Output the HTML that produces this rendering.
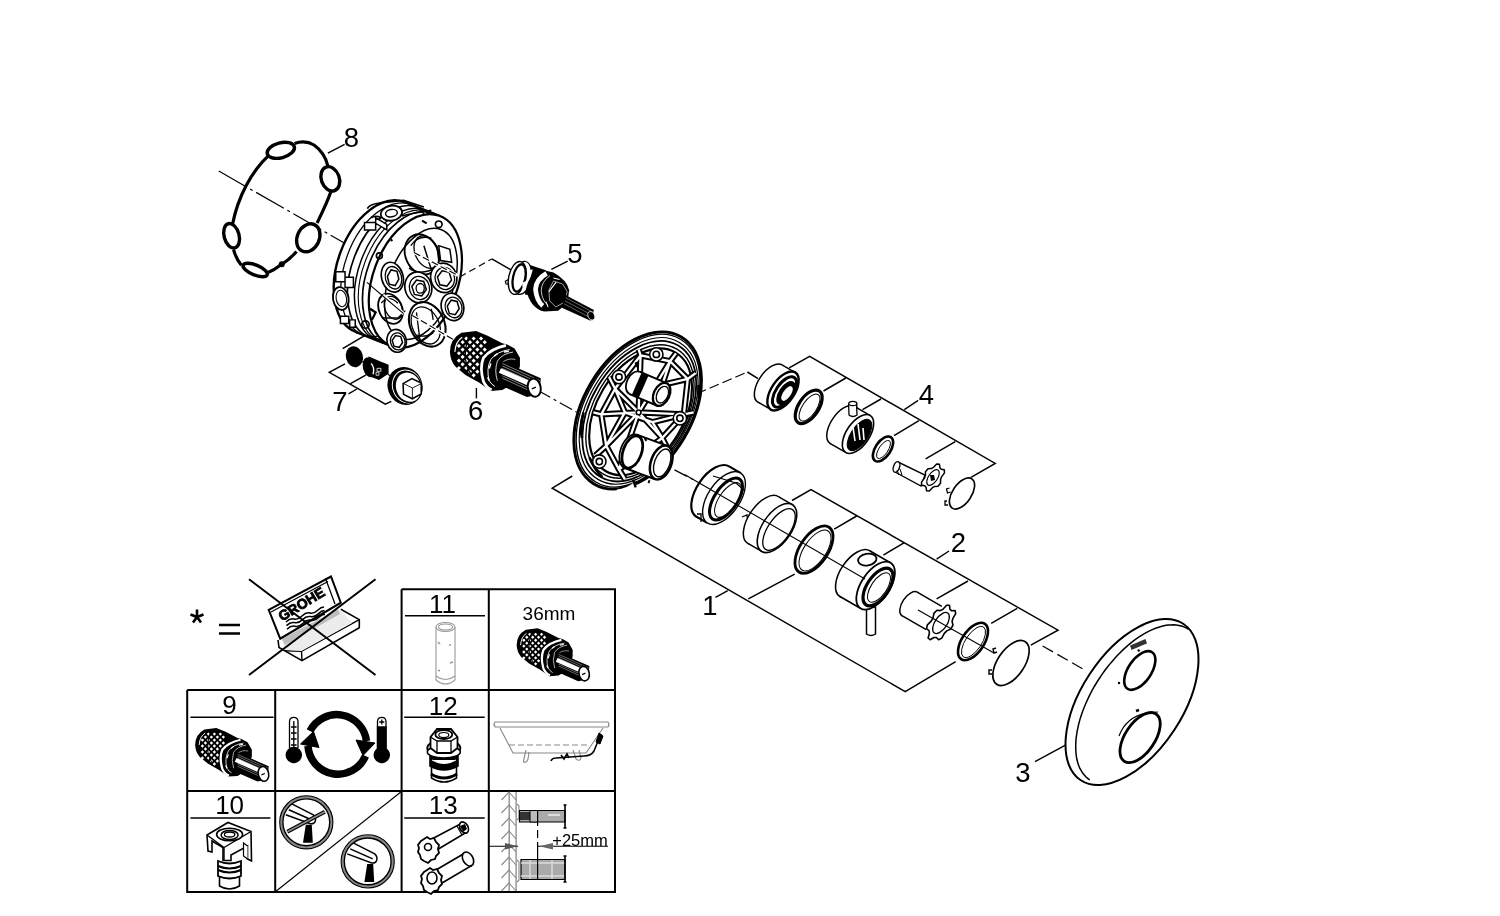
<!DOCTYPE html>
<html><head><meta charset="utf-8">
<style>
html,body{margin:0;padding:0;background:#fff;width:1500px;height:916px;overflow:hidden}
svg{position:absolute;left:0;top:0;display:block;will-change:transform}
text{font-family:"Liberation Sans",sans-serif;fill:#000}
</style></head><body>
<svg width="1500" height="916" viewBox="0 0 1500 916">
<g id="labels" font-size="27.5">
<text x="351.5" y="147.2" text-anchor="middle">8</text>
<text x="575" y="263.2" text-anchor="middle">5</text>
<text x="475.6" y="420.2" text-anchor="middle">6</text>
<text x="340" y="411.2" text-anchor="middle">7</text>
<text x="926.5" y="404.2" text-anchor="middle">4</text>
<text x="958.5" y="552.2" text-anchor="middle">2</text>
<text x="710" y="614.7" text-anchor="middle">1</text>
<text x="1023" y="781.7" text-anchor="middle">3</text>
</g>
<g id="leaders" stroke="#000" stroke-width="1.4" fill="none">
<path d="M327.9 153.2L344.6 144.4"/>
<path d="M551.4 269.3L567.7 261.1"/>
<path d="M476.4 388L476.4 398.4"/>
<path d="M348.5 393.9L356.9 389"/>
<path d="M904.3 409.6L918.2 400.3"/>
<path d="M936.6 559.2L949 551"/>
<path d="M715.5 597.4L727.8 590.6"/>
<path d="M1035 761.6L1065.5 745.2"/>
</g>

<g id="lines" stroke="#000" stroke-width="1.5" fill="none">
<!-- brackets -->
<path d="M342.6 348.7L375.7 329.1M345 363.9L329.3 372.3L385.4 404.2L391.3 401.3M350.5 383.6L365.7 375.2"/>
<path d="M789.2 367.8L809.6 356.3L995.2 463.4L971 477.3M845.8 378L823.5 391M881 399L862.5 409.6M919 420.7L894 435.6M955.3 441.7L925.6 458.8"/>
<path d="M792 500.5L811 489.6L1058 630.2L1030.8 645.2M857.5 515.5L834.2 529.2M903.9 542.8L883.4 555.1M968 581L936.6 598.8M1017.2 608.3L991.2 623.4"/>
<path d="M572.3 476L552.2 488.2L905.2 691.6L955.7 661.6M748.3 598.8L794.7 574.2"/>
<path d="M491.8 258.9L511 269.9M747.4 372L758 378.6"/>
</g>
<g id="axes" stroke="#000" stroke-width="1.2" fill="none" stroke-dasharray="14 4 3 4">
<path d="M218.8 171L345.6 243.7" stroke-dasharray="32 4 3 4"/>
<path d="M459.7 277L491.8 258.9" stroke-dasharray="7 4"/>
<path d="M538 390.4L576.7 412.2"/>
<path d="M674.5 469.9L696.3 481.2"/>
<path d="M671 404.8L747.4 372" stroke-dasharray="10 4"/>
<path d="M1042.6 645.9L1086.3 671" stroke-dasharray="12 5"/>
</g>
<g id="gasket" stroke="#000" fill="none">
<path stroke-width="3.2" d="M294.5 143.4C302 141 309 142 314 145C321 150 326 158 327.9 166M330.9 191.6C327 203 322 213 317.1 223M296.5 251.5C292 257 287 261 281.7 264.3C277 268 272 271 267 273.1M241.4 265.3C237 260 235 255 233.6 249.6M232.6 224C238 197 251 172 269 155.2"/>
<ellipse stroke-width="3.4" cx="280.8" cy="150.3" rx="14" ry="7.5" transform="rotate(-15 280.8 150.3)"/>
<ellipse stroke-width="3.4" cx="330.3" cy="178.8" rx="9" ry="12.5" transform="rotate(-20 330.3 178.8)"/>
<ellipse stroke-width="3.4" cx="308.3" cy="237.8" rx="11" ry="14.5" transform="rotate(25 308.3 237.8)"/>
<ellipse stroke-width="3.4" cx="231.6" cy="235.8" rx="7.5" ry="12.5" transform="rotate(-15 231.6 235.8)"/>
<ellipse stroke-width="3.4" cx="255.2" cy="270" rx="13" ry="5" transform="rotate(22 255.2 270)"/>
<circle cx="281.7" cy="264.3" r="3" fill="#000" stroke="none"/>
</g>

<g id="housing" transform="translate(320 190) scale(0.18553)" stroke="#000" fill="none" stroke-width="9"><ellipse cx="325.0" cy="415.0" rx="374.0" ry="229.0" transform="rotate(-69.8 325.0 415.0)" fill="#fff" stroke-width="13"/><path d="M458 65L647 140L381 840L192 765Z" fill="#fff" stroke="none"/><path d="M458 65L647 140M192 765L381 840" stroke-width="12"/><ellipse cx="362.8" cy="430.0" rx="374.0" ry="229.0" transform="rotate(-69.8 362.8 430.0)" stroke-width="7"/><ellipse cx="398.7" cy="444.2" rx="374.0" ry="229.0" transform="rotate(-69.8 398.7 444.2)" stroke-width="9"/><ellipse cx="436.5" cy="459.2" rx="374.0" ry="229.0" transform="rotate(-69.8 436.5 459.2)" stroke-width="8"/><ellipse cx="457.3" cy="467.5" rx="374.0" ry="229.0" transform="rotate(-69.8 457.3 467.5)" stroke-width="6"/><ellipse cx="480.0" cy="476.5" rx="374.0" ry="229.0" transform="rotate(-69.8 480.0 476.5)" stroke-width="9"/><ellipse cx="514.0" cy="490.0" rx="374.0" ry="229.0" transform="rotate(-69.8 514.0 490.0)" fill="#fff" stroke-width="12"/><ellipse cx="544.0" cy="506.0" rx="312.0" ry="174.0" transform="rotate(-69.8 544.0 506.0)" stroke-width="8"/><path d="M240 175H300V215H240ZM300 150L360 185V215L300 180ZM85 440h50v55h-50ZM135 470h45v55h-45ZM110 680h45v40h-45ZM160 700h30v40h-30Z" fill="#fff" stroke-width="8"/><ellipse cx="112.0" cy="585.0" rx="42.0" ry="62.0" transform="rotate(-10 112.0 585.0)" fill="#fff" stroke-width="10"/><ellipse cx="115.0" cy="585.0" rx="28.0" ry="45.0" transform="rotate(-10 115.0 585.0)" stroke-width="6"/><path d="M255 100 Q265 78 320 70 L450 56 L560 92 M275 150 Q300 135 330 150 M440 140 Q520 120 600 110" stroke-width="9"/><ellipse cx="385.0" cy="125.0" rx="58.0" ry="40.0" transform="rotate(-10 385.0 125.0)" fill="#fff" stroke-width="10"/><ellipse cx="385.0" cy="125.0" rx="32.0" ry="20.0" transform="rotate(-10 385.0 125.0)" stroke-width="8"/><ellipse cx="549.0" cy="347.0" rx="88.0" ry="112.0" transform="rotate(-25 549.0 347.0)" stroke-width="10"/><ellipse cx="575.0" cy="335.0" rx="62.0" ry="92.0" transform="rotate(-25 575.0 335.0)" stroke-width="7"/><path d="M490 300 Q530 240 600 260 M480 420 Q540 470 640 410 M560 300 L600 430 M630 300 L640 380" stroke-width="8"/><path d="M640 300 L700 320 L710 390 L650 380 Z" fill="#fff" stroke-width="8"/><ellipse cx="380.0" cy="640.0" rx="62.0" ry="85.0" transform="rotate(-25 380.0 640.0)" stroke-width="10"/><ellipse cx="395.0" cy="635.0" rx="45.0" ry="65.0" transform="rotate(-25 395.0 635.0)" stroke-width="7"/><path d="M330 610 Q370 560 420 610 M340 690 L420 690 L460 650" stroke-width="7"/><ellipse cx="390.0" cy="470.0" rx="58.0" ry="82.0" transform="rotate(-15 390.0 470.0)" fill="#fff" stroke-width="9"/><ellipse cx="396.0" cy="473.0" rx="43.5" ry="61.5" transform="rotate(-15 396.0 473.0)" stroke-width="7"/><path d="M425 481 L405 515 L373 508 L363 465 L383 431 L415 438 Z" stroke-width="8"/><ellipse cx="530.0" cy="525.0" rx="72.0" ry="84.0" transform="rotate(-15 530.0 525.0)" fill="#fff" stroke-width="9"/><ellipse cx="536.0" cy="528.0" rx="54.0" ry="63.0" transform="rotate(-15 536.0 528.0)" stroke-width="7"/><path d="M573 536 L548 571 L509 563 L495 520 L520 485 L559 493 Z" stroke-width="8"/><ellipse cx="540.0" cy="530.0" rx="22.0" ry="26.0" transform="rotate(0 540.0 530.0)" stroke-width="7"/><ellipse cx="667.0" cy="474.0" rx="70.0" ry="80.0" transform="rotate(-15 667.0 474.0)" fill="#fff" stroke-width="9"/><ellipse cx="673.0" cy="477.0" rx="52.5" ry="60.0" transform="rotate(-15 673.0 477.0)" stroke-width="7"/><path d="M709 485 L684 518 L646 511 L633 469 L658 436 L696 443 Z" stroke-width="8"/><ellipse cx="714.0" cy="630.0" rx="60.0" ry="75.0" transform="rotate(-15 714.0 630.0)" fill="#fff" stroke-width="9"/><ellipse cx="720.0" cy="633.0" rx="45.0" ry="56.2" transform="rotate(-15 720.0 633.0)" stroke-width="7"/><path d="M750 640 L729 672 L697 665 L686 626 L707 594 L739 601 Z" stroke-width="8"/><ellipse cx="413.0" cy="813.0" rx="52.0" ry="62.0" transform="rotate(-15 413.0 813.0)" fill="#fff" stroke-width="9"/><ellipse cx="419.0" cy="816.0" rx="39.0" ry="46.5" transform="rotate(-15 419.0 816.0)" stroke-width="7"/><path d="M445 822 L427 848 L399 842 L389 810 L407 784 L435 790 Z" stroke-width="8"/><ellipse cx="578.0" cy="724.0" rx="92.0" ry="125.0" transform="rotate(-25 578.0 724.0)" stroke-width="11"/><ellipse cx="570.0" cy="730.0" rx="72.0" ry="105.0" transform="rotate(-25 570.0 730.0)" stroke-width="7"/><path d="M520 660 L540 820 M600 640 L610 700 M520 780 Q560 800 610 770" stroke-width="7"/><circle cx="640" cy="185" r="18"/><circle cx="245" cy="725" r="20"/><circle cx="320" cy="355" r="16"/><path d="M550 165 l25 15 M380 265 l10 10 M270 640 l30 20 L280 700" stroke-width="12"/></g>
<g id="hgaps" fill="none">
<path d="M414 252.6L457.7 275.3M383 295L403.6 313.7M412.3 315.5L454.2 340" stroke="#fff" stroke-width="3.2"/>
<path d="M414 252.6L457.7 275.3M412.3 315.5L454.2 340" stroke="#000" stroke-width="1.1" stroke-dasharray="7 3"/>
<path d="M366.9 282.3L403.6 313.7" stroke="#000" stroke-width="1.1"/>
</g>
<g id="cart5" transform="translate(500 255) scale(0.076394)" stroke="#000" fill="none">
<path d="M70 345 L110 320 L125 385 L80 380 Z" fill="#fff" stroke-width="16"/>
<path d="M300 100 L600 200 L640 520 L330 520 Z" fill="#000" stroke="none"/>
<ellipse cx="290" cy="300" rx="115" ry="220" transform="rotate(12 290 300)" fill="#fff" stroke-width="16"/>
<ellipse cx="225" cy="300" rx="112" ry="218" transform="rotate(12 225 300)" fill="#fff" stroke-width="18"/>
<ellipse cx="250" cy="300" rx="80" ry="182" transform="rotate(12 250 300)" stroke-width="30"/>
<path d="M260 290 Q300 330 300 420 Q290 480 270 490" stroke="#fff" stroke-width="10"/>
<path d="M350 200 L430 190 L400 290 Z" fill="#fff" stroke="none"/>
<path d="M300 360 L360 330 L360 420 L300 430 Z M450 300 l40 -30 l20 60 z" fill="#fff" stroke="none"/>
<path d="M340 450 Q380 230 560 195 L700 230 Q880 330 905 460 Q900 640 760 730 L580 740 Q400 700 340 450 Z" fill="#000" stroke="none"/>
<path d="M610 240 Q470 320 465 450 Q480 600 560 665" stroke="#fff" stroke-width="62"/>
<path d="M655 270 Q540 350 540 470 Q550 590 620 650" stroke="#fff" stroke-width="10"/>
<path d="M640 480 L735 355 M600 610 l30 70 M700 300 l80 20" stroke="#fff" stroke-width="14"/>
<path d="M700 340 L820 380 L880 480 L840 620 L730 680 L650 600 L640 460 Z" stroke="#fff" stroke-width="8"/>
<path d="M850 520 L1230 720 L1185 860 L810 690 Z" fill="#000" stroke="none"/>
<path d="M860 560 L1210 745 M850 600 L1200 785 M840 640 L1190 825" stroke="#fff" stroke-width="5"/>
<ellipse cx="1195" cy="795" rx="42" ry="58" transform="rotate(-20 1195 795)" fill="#000" stroke="#fff" stroke-width="9"/>
</g>
<g id="cart6" transform="translate(445 325) scale(0.0819)" stroke="#000" fill="none">
<path d="M60 330 Q60 170 200 95 L380 72 L520 130 L700 222 L760 238 L850 288 L915 400 L915 500 L860 700 L700 795 L560 805 L420 705 L250 610 L130 510 Q65 440 60 330 Z" fill="#000" stroke="none"/>
<g fill="#fff" stroke="none"><rect x="152" y="507" width="36" height="36" transform="rotate(45 170 525)"/><rect x="152" y="417" width="36" height="36" transform="rotate(45 170 435)"/><rect x="197" y="462" width="36" height="36" transform="rotate(45 215 480)"/><rect x="242" y="507" width="36" height="36" transform="rotate(45 260 525)"/><rect x="287" y="552" width="36" height="36" transform="rotate(45 305 570)"/><rect x="332" y="597" width="36" height="36" transform="rotate(45 350 615)"/><rect x="152" y="327" width="36" height="36" transform="rotate(45 170 345)"/><rect x="197" y="372" width="36" height="36" transform="rotate(45 215 390)"/><rect x="242" y="417" width="36" height="36" transform="rotate(45 260 435)"/><rect x="287" y="462" width="36" height="36" transform="rotate(45 305 480)"/><rect x="332" y="507" width="36" height="36" transform="rotate(45 350 525)"/><rect x="377" y="552" width="36" height="36" transform="rotate(45 395 570)"/><rect x="152" y="237" width="36" height="36" transform="rotate(45 170 255)"/><rect x="197" y="282" width="36" height="36" transform="rotate(45 215 300)"/><rect x="242" y="327" width="36" height="36" transform="rotate(45 260 345)"/><rect x="287" y="372" width="36" height="36" transform="rotate(45 305 390)"/><rect x="332" y="417" width="36" height="36" transform="rotate(45 350 435)"/><rect x="377" y="462" width="36" height="36" transform="rotate(45 395 480)"/><rect x="197" y="192" width="36" height="36" transform="rotate(45 215 210)"/><rect x="242" y="237" width="36" height="36" transform="rotate(45 260 255)"/><rect x="287" y="282" width="36" height="36" transform="rotate(45 305 300)"/><rect x="332" y="327" width="36" height="36" transform="rotate(45 350 345)"/><rect x="377" y="372" width="36" height="36" transform="rotate(45 395 390)"/><rect x="242" y="147" width="36" height="36" transform="rotate(45 260 165)"/><rect x="287" y="192" width="36" height="36" transform="rotate(45 305 210)"/><rect x="332" y="237" width="36" height="36" transform="rotate(45 350 255)"/><rect x="377" y="282" width="36" height="36" transform="rotate(45 395 300)"/><rect x="422" y="327" width="36" height="36" transform="rotate(45 440 345)"/><rect x="332" y="147" width="36" height="36" transform="rotate(45 350 165)"/><rect x="377" y="192" width="36" height="36" transform="rotate(45 395 210)"/><rect x="422" y="237" width="36" height="36" transform="rotate(45 440 255)"/><rect x="467" y="282" width="36" height="36" transform="rotate(45 485 300)"/><rect x="422" y="147" width="36" height="36" transform="rotate(45 440 165)"/><rect x="467" y="192" width="36" height="36" transform="rotate(45 485 210)"/></g>
<path d="M120 330 Q130 200 210 150" stroke="#fff" stroke-width="14"/>
<path d="M300 120 Q240 250 250 420 Q270 540 320 600" stroke="#000" stroke-width="16"/>
<path d="M745 250 Q560 290 470 400 Q420 520 470 690 Q510 770 570 790" stroke="#fff" stroke-width="34"/>
<path d="M790 300 Q640 320 560 420 Q500 540 540 680 Q570 730 610 750" stroke="#fff" stroke-width="12"/>
<path d="M600 380 l40 -30 M560 470 l-20 60 M520 640 l20 40 M720 330 l60 -10" stroke="#fff" stroke-width="18"/><path d="M830 330 Q700 350 640 440 Q600 560 640 680" stroke="#fff" stroke-width="10"/><path d="M860 420 Q760 400 700 460" stroke="#fff" stroke-width="8"/>
<path d="M690 440 L1170 650 L1150 850 L1000 880 L640 720 Z" fill="#000" stroke="none"/>
<g stroke="#fff" stroke-width="6"><path d="M700 470 L1160 680"/><path d="M700 500 L1160 710"/><path d="M700 530 L1160 740"/><path d="M700 560 L1160 770"/><path d="M700 590 L1160 800"/><path d="M700 620 L1160 830"/><path d="M700 650 L1160 860"/></g>
<path d="M670 555 L1010 705" stroke="#fff" stroke-width="62"/>
<ellipse cx="1090" cy="765" rx="78" ry="112" transform="rotate(-12 1090 765)" fill="#fff" stroke-width="24"/>
<path d="M1060 780 L1110 758" stroke-width="18"/>
</g>
<g id="part7" transform="translate(320 330) scale(0.09828)" stroke="#000" fill="none" stroke-width="16">
<ellipse cx="350" cy="272" rx="78" ry="100" transform="rotate(-15 350 272)" fill="#000"/>
<path d="M430 320 L470 345" stroke-width="12"/>
<path d="M500 280 L690 360 L690 440 L600 500 L470 450 Z" fill="#000"/>
<ellipse cx="500" cy="380" rx="55" ry="95" transform="rotate(-15 500 380)" fill="#000"/>
<path d="M520 340 Q560 380 540 450" stroke="#fff" stroke-width="14"/>
<path d="M580 390h40v30h-40zM570 430h30v30h-30z" stroke="#fff" stroke-width="8"/>
<path d="M690 450 L740 480" stroke-width="12"/>
<ellipse cx="865" cy="570" rx="168" ry="188" transform="rotate(-20 865 570)" fill="#000"/>
<ellipse cx="885" cy="575" rx="146" ry="170" transform="rotate(-20 885 575)" stroke="#fff" stroke-width="10"/>
<ellipse cx="900" cy="582" rx="132" ry="158" transform="rotate(-20 900 582)" fill="#fff" stroke-width="14"/>
<path d="M845 545 L935 495 L1030 540 L1030 650 L940 700 L850 655 Z" fill="#fff" stroke-width="16"/>
<path d="M850 545 L940 590 L1030 545 M940 590 L940 700" stroke-width="9"/>
</g>

<g id="plate" transform="translate(560 320) scale(0.19656)" stroke="#000" fill="none" stroke-width="9"><ellipse cx="395.0" cy="460.0" rx="435.0" ry="275.0" transform="rotate(-59.3 395.0 460.0)" fill="#fff" stroke-width="15"/><ellipse cx="397.2" cy="461.1" rx="422.2" ry="267.1" transform="rotate(-59.3 397.2 461.1)" stroke-width="7"/><ellipse cx="400.2" cy="462.4" rx="405.2" ry="256.4" transform="rotate(-59.3 400.2 462.4)" stroke-width="6"/><ellipse cx="403.2" cy="463.9" rx="388.2" ry="245.8" transform="rotate(-59.3 403.2 463.9)" stroke-width="9"/><ellipse cx="406.7" cy="465.5" rx="368.7" ry="233.7" transform="rotate(-59.3 406.7 465.5)" stroke-width="7"/><ellipse cx="410.0" cy="467.0" rx="350.0" ry="222.0" transform="rotate(-59.3 410.0 467.0)" stroke-width="11" fill="#fff"/><path d="M120 470 Q100 540 112 600 M150 700 Q175 760 215 800 M705 330 Q708 370 705 400" stroke-width="14"/><path d="M385 835 Q340 872 290 874" stroke="#fff" stroke-width="24"/><path d="M372 812 L385 852" stroke-width="12"/><path d="M400 470 L280 350 L210 480 L235 640 L300 760 L400 470 L520 600 L630 480 L650 300 L560 210 L400 470 L410 180 M280 350 L410 180 L560 210 M210 480 L400 470 L630 480 M235 640 L400 470 M300 760 L520 600 M280 350 L250 290 M210 480 L170 470 M235 640 L180 690 M300 760 L330 810 M520 600 L550 660 M630 480 L680 470 M650 300 L690 270 M560 210 L590 170 M410 180 L400 150 M280 350 L330 470 L235 640 M560 210 L520 330 L650 300 M520 600 L470 520 L630 480 M330 470 L470 520" stroke-width="32" stroke-linejoin="round"/><path d="M400 470 L280 350 L210 480 L235 640 L300 760 L400 470 L520 600 L630 480 L650 300 L560 210 L400 470 L410 180 M280 350 L410 180 L560 210 M210 480 L400 470 L630 480 M235 640 L400 470 M300 760 L520 600 M280 350 L250 290 M210 480 L170 470 M235 640 L180 690 M300 760 L330 810 M520 600 L550 660 M630 480 L680 470 M650 300 L690 270 M560 210 L590 170 M410 180 L400 150 M280 350 L330 470 L235 640 M560 210 L520 330 L650 300 M520 600 L470 520 L630 480 M330 470 L470 520" stroke-width="12" stroke="#fff" stroke-linejoin="round"/><g stroke-width="8" fill="#fff"><circle cx="490" cy="175" r="34"/><circle cx="490" cy="175" r="16"/><circle cx="300" cy="290" r="34"/><circle cx="300" cy="290" r="16"/><circle cx="610" cy="500" r="34"/><circle cx="610" cy="500" r="16"/><circle cx="200" cy="720" r="34"/><circle cx="200" cy="720" r="16"/><circle cx="400" cy="470" r="12"/></g><ellipse cx="380.0" cy="320.0" rx="62.0" ry="40.0" transform="rotate(-65 380.0 320.0)" fill="#fff" stroke-width="9"/><path d="M355 377L492 435L542 321L405 263Z" fill="#fff" stroke="none"/><path d="M355 377L492 435M405 263L542 321" stroke-width="10"/><path d="M365 382 L400 397 L450 283 L415 268 Z" fill="#000" stroke="none"/><ellipse cx="517.0" cy="378.0" rx="62.0" ry="40.0" transform="rotate(-65 517.0 378.0)" fill="#fff" stroke-width="12"/><ellipse cx="521.0" cy="380.0" rx="44.6" ry="28.0" transform="rotate(-65 521.0 380.0)" stroke-width="7"/><path d="M385 215 l10 25" stroke-width="12"/><ellipse cx="360.0" cy="668.0" rx="90.0" ry="52.0" transform="rotate(-70 360.0 668.0)" fill="#fff" stroke-width="9"/><path d="M391 583L546 640L484 810L329 753Z" fill="#fff" stroke="none"/><path d="M391 583L546 640M329 753L484 810" stroke-width="10"/><ellipse cx="368.0" cy="671.0" rx="85.5" ry="46.8" transform="rotate(-70 368.0 671.0)" stroke-width="14"/><ellipse cx="515.0" cy="725.0" rx="90.0" ry="52.0" transform="rotate(-70 515.0 725.0)" fill="#fff" stroke-width="13"/><ellipse cx="520.0" cy="727.0" rx="73.8" ry="39.0" transform="rotate(-70 520.0 727.0)" stroke-width="7"/><path d="M430 600 l10 15 M455 815 l-5 15" stroke-width="10"/></g>
<g id="group4" stroke="#000" fill="none"><ellipse cx="770.0" cy="383.5" rx="22.2" ry="11.5" transform="rotate(-56 770.0 383.5)" fill="#fff" stroke-width="1.5"/><path d="M782.4 365.1L795.4 372.6L770.6 409.4L757.6 401.9Z" fill="#fff" stroke="none"/><path d="M782.4 365.1L795.4 372.6M757.6 401.9L770.6 409.4" stroke-width="1.5"/><ellipse cx="783.0" cy="391.0" rx="22.2" ry="11.5" transform="rotate(-56 783.0 391.0)" fill="#fff" stroke-width="2.4"/><ellipse cx="784.5" cy="392.0" rx="17.5" ry="8.5" transform="rotate(-56 784.5 392.0)" stroke-width="3"/><ellipse cx="786.0" cy="393.0" rx="13.0" ry="6.5" transform="rotate(-56 786.0 393.0)" fill="#000" stroke-width="1.3"/><ellipse cx="787.0" cy="393.5" rx="8.0" ry="3.5" transform="rotate(-56 787.0 393.5)" fill="#fff" stroke="#fff" stroke-width="0.8"/><path d="M780 394 l8 -9" stroke-width="1.2"/><ellipse cx="808.7" cy="406.8" rx="19.0" ry="10.0" transform="rotate(-56 808.7 406.8)" stroke-width="3.2"/><ellipse cx="809.5" cy="407.5" rx="15.5" ry="7.0" transform="rotate(-56 809.5 407.5)" stroke-width="1"/><path d="M848.6 404 L849 415 Q853 418 857 415 L856.5 403 Q852 400 848.6 404Z" fill="#fff" stroke-width="1.3"/><ellipse cx="842.4" cy="425.0" rx="22.2" ry="11.5" transform="rotate(-56 842.4 425.0)" fill="#fff" stroke-width="1.5"/><path d="M854.8 406.6L870.4 415.6L845.6 452.4L830.0 443.4Z" fill="#fff" stroke="none"/><path d="M854.8 406.6L870.4 415.6M830.0 443.4L845.6 452.4" stroke-width="1.5"/><ellipse cx="858.0" cy="434.0" rx="22.2" ry="11.5" transform="rotate(-56 858.0 434.0)" fill="#fff" stroke-width="1.6"/><ellipse cx="859.5" cy="435.0" rx="18.0" ry="8.5" transform="rotate(-56 859.5 435.0)" fill="#000" stroke-width="1"/><path d="M853 427l2 14M858 424l2 16M863 428l1 12" stroke="#fff" stroke-width="1.6"/><path d="M848.6 404 L849 415 Q853 418 857 415 L856.5 403" fill="#fff" stroke-width="1.3"/><ellipse cx="852.8" cy="403.5" rx="4.0" ry="2.2" transform="rotate(0 852.8 403.5)" fill="#fff" stroke-width="1.2"/><ellipse cx="883.0" cy="449.0" rx="14.2" ry="7.6" transform="rotate(-56 883.0 449.0)" stroke-width="2.6"/><ellipse cx="883.5" cy="449.5" rx="10.5" ry="4.5" transform="rotate(-56 883.5 449.5)" stroke-width="0.9"/><path d="M898 462 L925 475 L921 486 L895 472 Z" fill="#fff" stroke-width="1.4"/><ellipse cx="896.5" cy="467.0" rx="5.5" ry="3.0" transform="rotate(-70 896.5 467.0)" fill="#fff" stroke-width="1.4"/><path d="M897 470 l2 5 M900 469 l2 6" stroke-width="1"/><path d="M941.3 469.3 L944.3 469.8 L944.5 472.9 L941.7 476.6 L940.6 479.4 L940.5 483.3 L938.0 486.3 L934.8 486.4 L932.4 487.7 L929.3 491.0 L926.6 490.8 L926.1 487.3 L924.7 485.7 L921.7 485.2 L921.5 482.1 L924.3 478.4 L925.4 475.6 L925.5 471.7 L928.0 468.7 L931.2 468.6 L933.6 467.3 L936.7 464.0 L939.4 464.2 L939.9 467.7 Z" fill="#fff" stroke-width="1.5" stroke-linejoin="round"/><ellipse cx="933.0" cy="477.5" rx="9.0" ry="4.5" transform="rotate(-56 933.0 477.5)" stroke-width="1.2"/><path d="M930 475 l4 0 l1 5 l-4 1z" fill="#000" stroke="none"/><ellipse cx="962.0" cy="493.5" rx="17.6" ry="9.5" transform="rotate(-56 962.0 493.5)" fill="#fff" stroke-width="1.6"/><path d="M949.5 488 l-3 1 l1 4 l3 -1 M947 501 l-2 0 l0 4 l3 0" stroke-width="1.3"/></g><g id="group12" stroke="#000" fill="none"><ellipse cx="712.7" cy="491.5" rx="30.0" ry="16.0" transform="rotate(-56 712.7 491.5)" fill="#fff" stroke-width="2.2"/><path d="M729.5 466.6L740.8 473.1L707.2 522.9L696.0 516.4Z" fill="#fff" stroke="none"/><path d="M729.5 466.6L740.8 473.1M696.0 516.4L707.2 522.9" stroke-width="2.2"/><ellipse cx="724.0" cy="498.0" rx="30.0" ry="16.0" transform="rotate(-56 724.0 498.0)" fill="#fff" stroke-width="1.4"/><ellipse cx="726.0" cy="499.0" rx="24.0" ry="11.5" transform="rotate(-56 726.0 499.0)" stroke-width="3"/><ellipse cx="728.0" cy="500.0" rx="20.0" ry="9.0" transform="rotate(-56 728.0 500.0)" stroke-width="1"/><path d="M713 476 L736 483 L745 491 M742 517 l5 -2 l1 8 M697 514 l4 0 l0 8" stroke-width="1.3"/><ellipse cx="763.1" cy="520.0" rx="28.0" ry="14.5" transform="rotate(-56 763.1 520.0)" fill="#fff" stroke-width="1.5"/><path d="M778.8 496.8L792.7 504.8L761.3 551.2L747.5 543.2Z" fill="#fff" stroke="none"/><path d="M778.8 496.8L792.7 504.8M747.5 543.2L761.3 551.2" stroke-width="1.5"/><ellipse cx="777.0" cy="528.0" rx="28.0" ry="14.5" transform="rotate(-56 777.0 528.0)" fill="#fff" stroke-width="1.6"/><ellipse cx="779.0" cy="529.5" rx="24.0" ry="11.0" transform="rotate(-56 779.0 529.5)" stroke-width="1.3"/><ellipse cx="814.0" cy="549.6" rx="27.0" ry="14.0" transform="rotate(-56 814.0 549.6)" stroke-width="2.8"/><ellipse cx="815.0" cy="550.5" rx="23.5" ry="11.0" transform="rotate(-56 815.0 550.5)" stroke-width="1"/><path d="M866.5 607 L866.5 634 Q871 637 875.5 634 L875.5 607Z" fill="#fff" stroke-width="1.5"/><ellipse cx="854.8" cy="573.6" rx="27.3" ry="14.2" transform="rotate(-56 854.8 573.6)" fill="#fff" stroke-width="1.6"/><path d="M870.1 551.0L890.9 563.0L860.3 608.2L839.6 596.2Z" fill="#fff" stroke="none"/><path d="M870.1 551.0L890.9 563.0M839.6 596.2L860.3 608.2" stroke-width="1.6"/><ellipse cx="875.6" cy="585.6" rx="27.3" ry="14.2" transform="rotate(-56 875.6 585.6)" fill="#fff" stroke-width="1.8"/><ellipse cx="878.0" cy="587.0" rx="21.5" ry="10.8" transform="rotate(-56 878.0 587.0)" stroke-width="3.2"/><ellipse cx="879.0" cy="587.5" rx="17.0" ry="7.8" transform="rotate(-56 879.0 587.5)" stroke-width="1"/><ellipse cx="867.3" cy="559.6" rx="9.3" ry="5.8" transform="rotate(-10 867.3 559.6)" fill="#fff" stroke-width="1.8"/><ellipse cx="909.8" cy="604.0" rx="14.0" ry="7.5" transform="rotate(-56 909.8 604.0)" fill="#fff" stroke-width="1.5"/><path d="M917.6 592.4L941.8 606.4L926.2 629.6L901.9 615.6Z" fill="#fff" stroke="none"/><path d="M917.6 592.4L941.8 606.4M901.9 615.6L926.2 629.6" stroke-width="1.5"/><path d="M951.5 610.7 L955.1 610.5 L955.7 613.7 L952.9 618.3 L952.1 621.5 L953.0 625.1 L950.8 629.0 L946.8 630.9 L944.3 633.4 L941.8 638.1 L938.6 639.8 L936.4 637.5 L934.0 637.5 L930.1 639.7 L928.1 638.0 L929.4 633.2 L929.0 630.6 L926.5 628.7 L927.4 624.8 L931.2 621.2 L933.0 618.1 L933.9 613.4 L936.9 610.3 L940.3 610.6 L943.0 609.2 L946.6 605.3 L949.5 605.3 L950.0 609.3 Z" fill="#fff" stroke-width="1.6" stroke-linejoin="round"/><ellipse cx="941.0" cy="623.0" rx="12.0" ry="6.0" transform="rotate(-56 941.0 623.0)" stroke-width="1.3"/><ellipse cx="973.0" cy="641.5" rx="21.3" ry="11.0" transform="rotate(-56 973.0 641.5)" stroke-width="2.6"/><ellipse cx="973.5" cy="642.0" rx="18.0" ry="8.0" transform="rotate(-56 973.5 642.0)" stroke-width="0.9"/><ellipse cx="1011.0" cy="663.0" rx="25.7" ry="13.4" transform="rotate(-56 1011.0 663.0)" fill="#fff" stroke-width="1.7"/><path d="M996 648 l-3 1 l1 4 l3 -1 M992 670 l-3 0 l0 4 l3 0" stroke-width="1.4"/><path d="M684.6 474.5 L865 579 M918 610 L994 653" stroke-width="1.1"/></g><g id="plate3" stroke="#000" fill="none"><ellipse cx="1132" cy="702" rx="93.5" ry="50.7" transform="rotate(-56.8 1132 702)" fill="#fff" stroke-width="2"/><path d="M1089.7 779.8 L1087.7 778.3 L1085.8 776.7 L1084.1 774.8 L1082.5 772.8 L1081.1 770.5 L1079.8 768.1 L1078.7 765.5 L1077.8 762.7 L1077.0 759.8 L1076.4 756.7 L1076.0 753.5 L1075.8 750.1 L1075.7 746.7 L1075.8 743.1 L1076.0 739.4 L1076.5 735.6 L1077.1 731.7 L1077.9 727.7 L1078.8 723.7 L1079.9 719.6 L1081.2 715.5 L1082.6 711.4 L1084.2 707.2 L1086.0 703.0 L1087.9 698.9 L1089.9 694.7 L1092.0 690.6 L1094.3 686.5 L1096.7 682.5 L1099.3 678.5 L1101.9 674.6 L1104.6 670.8 L1107.5 667.0 L1110.4 663.4 L1113.4 659.9 L1116.4 656.5 L1119.6 653.2 L1122.7 650.1 L1126.0 647.1 L1129.2 644.3 L1132.5 641.7 L1135.8 639.2 L1139.1 636.9 L1142.4 634.8 L1145.7 632.9 L1149.0 631.1 L1152.3 629.6 L1155.5 628.3 L1158.7 627.2 L1161.8 626.3 L1164.9 625.6 L1167.9 625.1 L1170.8 624.9 L1173.6 624.8 L1176.3 625.0 L1178.9 625.4 L1181.5 626.0 L1183.9 626.9 L1186.1 627.9 L1188.3 629.2" stroke-width="1.5"/><ellipse cx="1139.8" cy="670.5" rx="22.0" ry="11.5" transform="rotate(-56 1139.8 670.5)" fill="none" stroke-width="2.6"/><ellipse cx="1140.1" cy="737.6" rx="28.5" ry="14.8" transform="rotate(-56 1140.1 737.6)" fill="none" stroke-width="2.8"/><path d="M1131 646 l14 -6 l1 3 l-14 6z" fill="#333" stroke="#333" stroke-width="1.6"/><circle cx="1138.7" cy="650.5" r="1.2" fill="#000" stroke="none"/><circle cx="1119" cy="683" r="1.2" fill="#000" stroke="none"/><path d="M1119 736 Q1128 712 1158 712" stroke-width="1.2"/><path d="M1136 711 l3 -1" stroke-width="2.5"/></g>
<!-- table -->
<g id="table" stroke="#000" fill="none">
<path stroke-width="2" d="M401.6 589.2H615V891.9H187.2V690M187.2 690H615M187.2 790.9H615M401.6 589.2V891.9M275.2 690V891.9M488.8 589.2V891.9"/>
<path stroke-width="1.4" d="M405 615.8H485M190.4 717.3H273.6M404.2 717.3H484.7M190.4 818H270.4M404.2 818H484.7"/>
<path stroke-width="1.2" d="M276 891.2L400.8 792"/>
</g>
<g id="tabletext" font-size="26">
<text x="442.5" y="613" text-anchor="middle">11</text>
<text x="229.6" y="714" text-anchor="middle">9</text>
<text x="443.3" y="715" text-anchor="middle">12</text>
<text x="229.6" y="813.5" text-anchor="middle">10</text>
<text x="443.3" y="813.8" text-anchor="middle">13</text>
<text x="549" y="620" text-anchor="middle" font-size="19">36mm</text>
<text x="580" y="845.5" text-anchor="middle" font-size="16.5">+25mm</text>
<text x="197" y="628" text-anchor="middle" font-size="22">*</text>
<path d="M219 625H240M219 633.5H240" stroke="#000" stroke-width="2.4"/>
</g>
<g id="icons" stroke="#000" fill="none"><g stroke-width="2.6" stroke-linecap="butt"><path d="M197 609.5V617M197 617L190.5 614.5M197 617L203.5 614.5M197 617L193 622.5M197 617L201 622.5"/></g><path d="M278 640 L279 647.5 L302 660.6 L359.3 627.8 L359.3 619.6 L340.8 609.3" stroke-width="1.6" fill="#fff"/><path d="M285 650.8 L301.5 651.3 L359.3 619.6 M301.5 651.3 L302 660.6" stroke-width="1.4"/><path d="M281 637 L285 650 L301.5 651 L352 623 L341 610 Z" fill="#ececec" stroke="none"/><path d="M282 639 L338 609 L340 614 L285 645 Z" fill="#bdbdbd" stroke="none"/><path d="M268.7 609.8 L331 576.5 L340.8 602.7 L280.2 638.7 Z" fill="#fff" stroke-width="2"/><path d="M271 612 L328 581.5 M325.5 578.5 L335 604" stroke-width="1.3"/><text x="0" y="0" font-size="14" font-weight="bold" fill="#fff" stroke="#000" stroke-width="0.8" transform="translate(282 621.5) rotate(-31)">GROHE</text><path d="M286.0 622.0 q4 -4 8 -3 q4 1 8 -3 q4 -4 8 -3 q4 1 8 -3 q3 -3 6 -3" stroke-width="1.5"/><path d="M286.5 625.6 q4 -4 8 -3 q4 1 8 -3 q4 -4 8 -3 q4 1 8 -3 q3 -3 6 -3" stroke-width="1.5"/><path d="M287.0 629.2 q4 -4 8 -3 q4 1 8 -3 q4 -4 8 -3 q4 1 8 -3 q3 -3 6 -3" stroke-width="1.5"/><path d="M249 579.2L375.5 675M375.5 579.2L249 675" stroke-width="2"/><g stroke="#999" stroke-width="1.1"><path d="M436 627 V680 M455 627 V680" /><ellipse cx="445.5" cy="627" rx="9.5" ry="4.5" fill="#fff"/><ellipse cx="445.5" cy="627" rx="7" ry="3"/><path d="M436 680 Q445.5 688 455 680 M436 676 Q445.5 683 455 676"/><path d="M438 642 l2 2 M450 663 l3 -1 M438 670 l2 1 M449 645 l2 0" stroke-width="1.6"/></g><g transform="translate(156.7 363.5) scale(0.8)"><g transform="translate(445 325) scale(0.0819)" stroke="#000" fill="none">
<path d="M60 330 Q60 170 200 95 L380 72 L520 130 L700 222 L760 238 L850 288 L915 400 L915 500 L860 700 L700 795 L560 805 L420 705 L250 610 L130 510 Q65 440 60 330 Z" fill="#000" stroke="none"/>
<g fill="#fff" stroke="none"><rect x="152" y="507" width="36" height="36" transform="rotate(45 170 525)"/><rect x="152" y="417" width="36" height="36" transform="rotate(45 170 435)"/><rect x="197" y="462" width="36" height="36" transform="rotate(45 215 480)"/><rect x="242" y="507" width="36" height="36" transform="rotate(45 260 525)"/><rect x="287" y="552" width="36" height="36" transform="rotate(45 305 570)"/><rect x="332" y="597" width="36" height="36" transform="rotate(45 350 615)"/><rect x="152" y="327" width="36" height="36" transform="rotate(45 170 345)"/><rect x="197" y="372" width="36" height="36" transform="rotate(45 215 390)"/><rect x="242" y="417" width="36" height="36" transform="rotate(45 260 435)"/><rect x="287" y="462" width="36" height="36" transform="rotate(45 305 480)"/><rect x="332" y="507" width="36" height="36" transform="rotate(45 350 525)"/><rect x="377" y="552" width="36" height="36" transform="rotate(45 395 570)"/><rect x="152" y="237" width="36" height="36" transform="rotate(45 170 255)"/><rect x="197" y="282" width="36" height="36" transform="rotate(45 215 300)"/><rect x="242" y="327" width="36" height="36" transform="rotate(45 260 345)"/><rect x="287" y="372" width="36" height="36" transform="rotate(45 305 390)"/><rect x="332" y="417" width="36" height="36" transform="rotate(45 350 435)"/><rect x="377" y="462" width="36" height="36" transform="rotate(45 395 480)"/><rect x="197" y="192" width="36" height="36" transform="rotate(45 215 210)"/><rect x="242" y="237" width="36" height="36" transform="rotate(45 260 255)"/><rect x="287" y="282" width="36" height="36" transform="rotate(45 305 300)"/><rect x="332" y="327" width="36" height="36" transform="rotate(45 350 345)"/><rect x="377" y="372" width="36" height="36" transform="rotate(45 395 390)"/><rect x="242" y="147" width="36" height="36" transform="rotate(45 260 165)"/><rect x="287" y="192" width="36" height="36" transform="rotate(45 305 210)"/><rect x="332" y="237" width="36" height="36" transform="rotate(45 350 255)"/><rect x="377" y="282" width="36" height="36" transform="rotate(45 395 300)"/><rect x="422" y="327" width="36" height="36" transform="rotate(45 440 345)"/><rect x="332" y="147" width="36" height="36" transform="rotate(45 350 165)"/><rect x="377" y="192" width="36" height="36" transform="rotate(45 395 210)"/><rect x="422" y="237" width="36" height="36" transform="rotate(45 440 255)"/><rect x="467" y="282" width="36" height="36" transform="rotate(45 485 300)"/><rect x="422" y="147" width="36" height="36" transform="rotate(45 440 165)"/><rect x="467" y="192" width="36" height="36" transform="rotate(45 485 210)"/></g>
<path d="M120 330 Q130 200 210 150" stroke="#fff" stroke-width="14"/>
<path d="M300 120 Q240 250 250 420 Q270 540 320 600" stroke="#000" stroke-width="16"/>
<path d="M745 250 Q560 290 470 400 Q420 520 470 690 Q510 770 570 790" stroke="#fff" stroke-width="34"/>
<path d="M790 300 Q640 320 560 420 Q500 540 540 680 Q570 730 610 750" stroke="#fff" stroke-width="12"/>
<path d="M600 380 l40 -30 M560 470 l-20 60 M520 640 l20 40 M720 330 l60 -10" stroke="#fff" stroke-width="18"/><path d="M830 330 Q700 350 640 440 Q600 560 640 680" stroke="#fff" stroke-width="10"/><path d="M860 420 Q760 400 700 460" stroke="#fff" stroke-width="8"/>
<path d="M690 440 L1170 650 L1150 850 L1000 880 L640 720 Z" fill="#000" stroke="none"/>
<g stroke="#fff" stroke-width="6"><path d="M700 470 L1160 680"/><path d="M700 500 L1160 710"/><path d="M700 530 L1160 740"/><path d="M700 560 L1160 770"/><path d="M700 590 L1160 800"/><path d="M700 620 L1160 830"/><path d="M700 650 L1160 860"/></g>
<path d="M670 555 L1010 705" stroke="#fff" stroke-width="62"/>
<ellipse cx="1090" cy="765" rx="78" ry="112" transform="rotate(-12 1090 765)" fill="#fff" stroke-width="24"/>
<path d="M1060 780 L1110 758" stroke-width="18"/>
</g></g><g transform="translate(-169.3 459.9) scale(0.81)"><g transform="translate(445 325) scale(0.0819)" stroke="#000" fill="none">
<path d="M60 330 Q60 170 200 95 L380 72 L520 130 L700 222 L760 238 L850 288 L915 400 L915 500 L860 700 L700 795 L560 805 L420 705 L250 610 L130 510 Q65 440 60 330 Z" fill="#000" stroke="none"/>
<g fill="#fff" stroke="none"><rect x="152" y="507" width="36" height="36" transform="rotate(45 170 525)"/><rect x="152" y="417" width="36" height="36" transform="rotate(45 170 435)"/><rect x="197" y="462" width="36" height="36" transform="rotate(45 215 480)"/><rect x="242" y="507" width="36" height="36" transform="rotate(45 260 525)"/><rect x="287" y="552" width="36" height="36" transform="rotate(45 305 570)"/><rect x="332" y="597" width="36" height="36" transform="rotate(45 350 615)"/><rect x="152" y="327" width="36" height="36" transform="rotate(45 170 345)"/><rect x="197" y="372" width="36" height="36" transform="rotate(45 215 390)"/><rect x="242" y="417" width="36" height="36" transform="rotate(45 260 435)"/><rect x="287" y="462" width="36" height="36" transform="rotate(45 305 480)"/><rect x="332" y="507" width="36" height="36" transform="rotate(45 350 525)"/><rect x="377" y="552" width="36" height="36" transform="rotate(45 395 570)"/><rect x="152" y="237" width="36" height="36" transform="rotate(45 170 255)"/><rect x="197" y="282" width="36" height="36" transform="rotate(45 215 300)"/><rect x="242" y="327" width="36" height="36" transform="rotate(45 260 345)"/><rect x="287" y="372" width="36" height="36" transform="rotate(45 305 390)"/><rect x="332" y="417" width="36" height="36" transform="rotate(45 350 435)"/><rect x="377" y="462" width="36" height="36" transform="rotate(45 395 480)"/><rect x="197" y="192" width="36" height="36" transform="rotate(45 215 210)"/><rect x="242" y="237" width="36" height="36" transform="rotate(45 260 255)"/><rect x="287" y="282" width="36" height="36" transform="rotate(45 305 300)"/><rect x="332" y="327" width="36" height="36" transform="rotate(45 350 345)"/><rect x="377" y="372" width="36" height="36" transform="rotate(45 395 390)"/><rect x="242" y="147" width="36" height="36" transform="rotate(45 260 165)"/><rect x="287" y="192" width="36" height="36" transform="rotate(45 305 210)"/><rect x="332" y="237" width="36" height="36" transform="rotate(45 350 255)"/><rect x="377" y="282" width="36" height="36" transform="rotate(45 395 300)"/><rect x="422" y="327" width="36" height="36" transform="rotate(45 440 345)"/><rect x="332" y="147" width="36" height="36" transform="rotate(45 350 165)"/><rect x="377" y="192" width="36" height="36" transform="rotate(45 395 210)"/><rect x="422" y="237" width="36" height="36" transform="rotate(45 440 255)"/><rect x="467" y="282" width="36" height="36" transform="rotate(45 485 300)"/><rect x="422" y="147" width="36" height="36" transform="rotate(45 440 165)"/><rect x="467" y="192" width="36" height="36" transform="rotate(45 485 210)"/></g>
<path d="M120 330 Q130 200 210 150" stroke="#fff" stroke-width="14"/>
<path d="M300 120 Q240 250 250 420 Q270 540 320 600" stroke="#000" stroke-width="16"/>
<path d="M745 250 Q560 290 470 400 Q420 520 470 690 Q510 770 570 790" stroke="#fff" stroke-width="34"/>
<path d="M790 300 Q640 320 560 420 Q500 540 540 680 Q570 730 610 750" stroke="#fff" stroke-width="12"/>
<path d="M600 380 l40 -30 M560 470 l-20 60 M520 640 l20 40 M720 330 l60 -10" stroke="#fff" stroke-width="18"/><path d="M830 330 Q700 350 640 440 Q600 560 640 680" stroke="#fff" stroke-width="10"/><path d="M860 420 Q760 400 700 460" stroke="#fff" stroke-width="8"/>
<path d="M690 440 L1170 650 L1150 850 L1000 880 L640 720 Z" fill="#000" stroke="none"/>
<g stroke="#fff" stroke-width="6"><path d="M700 470 L1160 680"/><path d="M700 500 L1160 710"/><path d="M700 530 L1160 740"/><path d="M700 560 L1160 770"/><path d="M700 590 L1160 800"/><path d="M700 620 L1160 830"/><path d="M700 650 L1160 860"/></g>
<path d="M670 555 L1010 705" stroke="#fff" stroke-width="62"/>
<ellipse cx="1090" cy="765" rx="78" ry="112" transform="rotate(-12 1090 765)" fill="#fff" stroke-width="24"/>
<path d="M1060 780 L1110 758" stroke-width="18"/>
</g></g><g stroke-width="1.3"><path d="M289.5 748 V721 A4.3 4.3 0 0 1 298 721 V748" fill="#fff"/><path d="M293.8 721V748M291 727h5.6M291 733h5.6M291 739h5.6M291 745h5.6"/><circle cx="293.8" cy="755" r="7.6" fill="#000"/><path d="M291 749h5.6V752h-5.6z" fill="#000"/></g><g stroke-width="1.3"><path d="M377.5 748 V721 A4.3 4.3 0 0 1 386 721 V748" fill="#fff"/><path d="M377.5 727h8.5V750h-8.5z" fill="#000"/><path d="M381.8 719.5v5M379.3 722h5"/><circle cx="381.8" cy="755" r="7.6" fill="#000"/></g><path d="M310 731 A30 30 0 0 1 366.5 741" stroke-width="7.5"/><path d="M365.5 756 A30 30 0 0 1 308 746" stroke-width="7.5"/><path d="M300.5 744 L319 747.5 L313.5 731.5 Z" fill="#000" stroke-width="1"/><path d="M356 740 L375 743 L363 755.5 Z" fill="#000" stroke-width="1"/><g stroke-width="1.6" fill="#fff"><path d="M431.5 762 V778 Q444 786 456.5 778 V762 Z"/><path d="M431 774 Q444 782 457 774" stroke-width="3"/><path d="M430 756 V766 Q444 774 458 766 V756 Z" fill="#000"/><path d="M432 760 Q444 767 456 760" stroke="#fff" stroke-width="1"/><ellipse cx="443.8" cy="748" rx="16.5" ry="8" stroke-width="2"/><ellipse cx="443.8" cy="752" rx="16.5" ry="6" stroke-width="1.6"/><path d="M430.5 748 V737 L437 729 H451 L457.5 737 V748 L451 753 H437 Z" stroke-width="1.8"/><path d="M437 753 V741 M451 753 V741 M430.5 737 L437 741 H451 L457.5 737" stroke-width="1.3"/><ellipse cx="443.8" cy="734.5" rx="8.5" ry="4.5" stroke-width="1.8"/><ellipse cx="443.8" cy="735" rx="5" ry="2.5" stroke-width="1.2"/></g><g stroke="#888" stroke-width="1.1"><path d="M495 722 H608 Q610 724.5 608 727 H495 Q493 724.5 495 722Z" fill="#fff"/><path d="M500 728 L513 753 H586 L603 728"/><path d="M509 745 L588 745" stroke-dasharray="6 3"/><path d="M526 750 Q524 758 523.5 762 Q527 763 528 759 L529 752 M573 750 L576 759 Q580 762 581 758 L579 750"/></g><path d="M601 734 L594 751 Q591 756 584 756 L556 758 Q552 758 551 761" stroke-width="1.6"/><path d="M599 733 L603 736 L600 744 L596 742 Z" fill="#000" stroke-width="1"/><path d="M561 755 l3 4 l3 -5 l2 4" stroke-width="1.6"/><g stroke-width="1.6" fill="#fff"><path d="M219.5 876 V886 Q229.5 892 239.5 886 V876 Z"/><path d="M218 861 Q229.5 866 241 861 V876 Q229.5 881 218 876 Z" stroke-width="1.8"/><path d="M218 866 Q229.5 871 241 866 M218 870 Q229.5 875 241 870" stroke-width="2"/><path d="M207 835 L228 822.5 L251 831.5 L251.5 861 L247.5 859 V846 L231 855 V860.5 L223 860.5 V847.5 L212 841 V852 L208 851 Z"/><path d="M207 835 L224 847.5 L251 831.5 M224 847.5 V860" stroke-width="1.4"/><path d="M247.5 846 L243.5 843 V856 L247.5 859" stroke-width="1.2"/><ellipse cx="229.6" cy="834.5" rx="13" ry="6.3" stroke-width="1.6"/><ellipse cx="229.6" cy="835" rx="8.5" ry="4.6" stroke-width="1.5"/><ellipse cx="229.6" cy="834.5" rx="5.2" ry="2.5" stroke-width="1.3"/></g><circle cx="306.3" cy="822.3" r="25" stroke="#888" stroke-width="3"/><circle cx="306.3" cy="822.3" r="26.6" stroke-width="1.1"/><circle cx="306.3" cy="822.3" r="23.4" stroke-width="1.4"/><path d="M291.8 803.8 L313.3 814.8 Q316.3 817.3 315.3 821.3 Q314.3 824.3 310.3 823.8 L285.8 814.8 M288.8 809.8 L311.3 819.8" stroke-width="1.5"/><path d="M305.8 824.8 L311.8 824.8 L312.8 842.8 L303.0 842.8 Z" fill="#000" stroke="none"/><path d="M287.3 831.8 L324.8 811.8" stroke="#000" stroke-width="4"/><path d="M287.3 831.8 L324.8 811.8" stroke="#888" stroke-width="1.8"/><circle cx="367.7" cy="861.4" r="25" stroke="#888" stroke-width="3"/><circle cx="367.7" cy="861.4" r="26.6" stroke-width="1.1"/><circle cx="367.7" cy="861.4" r="23.4" stroke-width="1.4"/><path d="M353.2 842.9 L374.7 853.9 Q377.7 856.4 376.7 860.4 Q375.7 863.4 371.7 862.9 L347.2 853.9 M350.2 848.9 L372.7 858.9" stroke-width="1.5"/><path d="M367.2 863.9 L373.2 863.9 L374.2 881.9 L364.4 881.9 Z" fill="#000" stroke="none"/><g stroke-width="1.6" fill="#fff"><path d="M430 840 L462 823 L467 832 L435 851 Z"/><ellipse cx="464" cy="827.5" rx="4" ry="6" transform="rotate(-30 464 827.5)"/><path d="M457 826 l5 9" stroke-width="1.2"/><path d="M460 826 l5 -2 l2 5 l-4 3z" fill="#000" stroke="none"/><path d="M421 841 l6 -4 l3 2 l4 -1 l2 4 l3 3 l-1 4 l1 4 l-3 3 l-1 3 l-4 1 l-3 3 l-4 -2 l-3 -2 l-1 -4 l-2 -3 l1 -4 l-1 -3 z" stroke-width="1.8"/><circle cx="428" cy="847" r="3.5"/><path d="M436 870 L465 853 L471 866 L442 883 Z"/><ellipse cx="468" cy="859" rx="5" ry="7.5" transform="rotate(-30 468 859)"/><path d="M424 872 l6 -4 l3 2 l4 -1 l2 4 l3 3 l-1 4 l1 4 l-3 3 l-1 3 l-4 1 l-3 3 l-4 -2 l-3 -2 l-1 -4 l-2 -3 l1 -4 l-1 -3 z" stroke-width="1.8"/><ellipse cx="432" cy="878" rx="5" ry="6"/></g><g stroke="#888" stroke-width="1.1"><path d="M509.2 792V891M516.1 792V891" stroke-width="1.3"/><path d="M501.5 800 L509 792 L516 800M501.5 813 L509 805 L516 813M501.5 826 L509 818 L516 826M501.5 839 L509 831 L516 839M501.5 852 L509 844 L516 852M501.5 865 L509 857 L516 865M501.5 878 L509 870 L516 878M501.5 891 L509 883 L516 891"/><path d="M517 804 L519 806 V818 L517 820 M517 860 L519 862 V880 L517 882"/></g><path d="M519.5 810.5 H565 V822 H519.5 Z" fill="#aaa" stroke-width="1.2"/><path d="M520 812 H530 V820 H520Z" fill="#333" stroke="none"/><path d="M530 810.5 H537.5 V822 H530Z" fill="#bbb" stroke-width="1"/><path d="M548 815 H560" stroke="#eee" stroke-width="1.5"/><path d="M565 805 V828 M563.5 805 h3 M563.5 828 h3" stroke-width="1.6"/><path d="M521 859.5 H565 V879.5 H521 Z" fill="#aaa" stroke-width="1.2"/><path d="M521 863 H565 M521 876 H565 M530 860 V879 M552 860 V879" stroke="#ddd" stroke-width="1.4"/><path d="M565 856 V882 M563.5 856 h3 M563.5 882 h3" stroke-width="1.6"/><path d="M537.6 811 V826 M537.6 830 V838 M537.6 842 V880" stroke-width="1.2"/><path d="M489.5 846.3 H518 M537.6 846.3 H608" stroke-width="1.1"/><path d="M505 843 L518 846.3 L505 849.5Z" fill="#555" stroke="none"/><path d="M553 843 L539 846.3 L553 849.5Z" fill="#666" stroke="none"/></g>
</svg>
</body></html>
